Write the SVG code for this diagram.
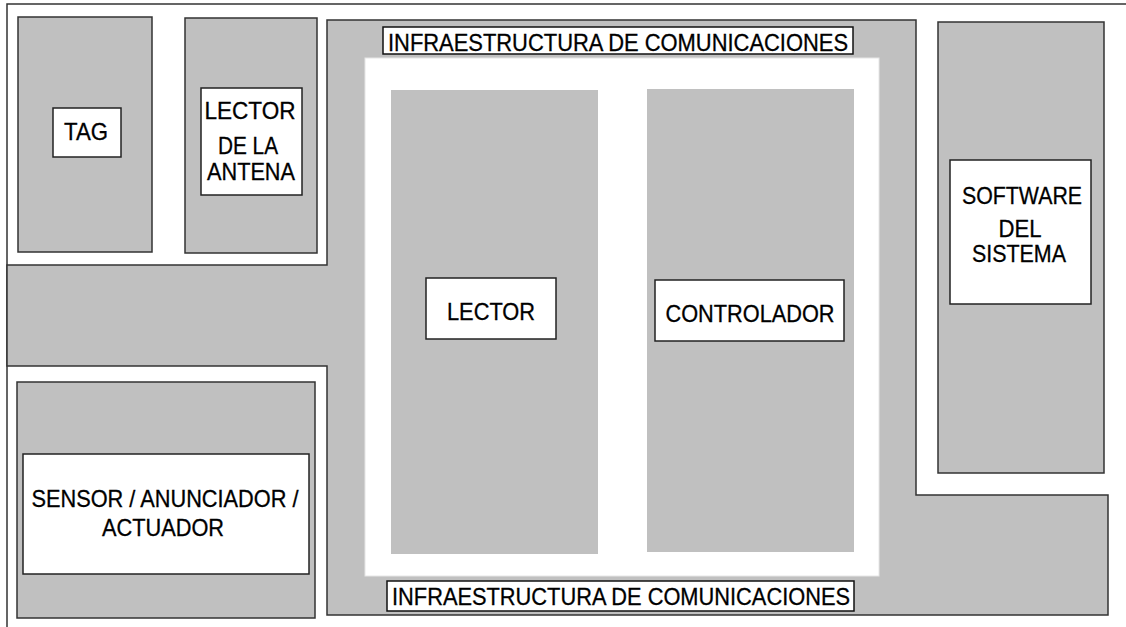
<svg xmlns="http://www.w3.org/2000/svg" width="1126" height="627" viewBox="0 0 1126 627">
  <style>
    .gray { fill: #c0c0c0; stroke: #333; stroke-width: 1.5; }
    .col { fill: #c0c0c0; stroke: none; }
    .box { fill: #ffffff; stroke: #222; stroke-width: 1.5; }
    .lbl { fill: #ffffff; stroke: #111; stroke-width: 1.5; }
    text { font-family: "Liberation Sans", Arial, sans-serif; font-size: 24px; fill: #000; stroke: #000; stroke-width: 0.3; text-anchor: middle; }
  </style>
  <rect width="1126" height="627" fill="#ffffff"/>
  <path d="M7,627 V4 H1126" fill="none" stroke="#333" stroke-width="1.5"/>

  <g id="infraestructura">
    <polygon class="gray" points="327,20 916,20 916,495 1108,495 1108,615 327,615 327,366 7,366 7,265 327,265"/>
    <rect x="365" y="58" width="514" height="518" fill="#ffffff" stroke="#e6e6e6" stroke-width="1"/>
    <rect class="lbl" x="383" y="27" width="470" height="27"/>
    <text x="618" y="51" textLength="460" lengthAdjust="spacingAndGlyphs">INFRAESTRUCTURA DE COMUNICACIONES</text>
    <rect class="lbl" x="387" y="581" width="467" height="30"/>
    <text x="621" y="605" textLength="458" lengthAdjust="spacingAndGlyphs">INFRAESTRUCTURA DE COMUNICACIONES</text>
  </g>

  <g id="tag">
    <rect class="gray" x="18" y="17" width="134" height="235"/>
    <rect class="box" x="53" y="108" width="68" height="49"/>
    <text x="86" y="140" textLength="44" lengthAdjust="spacingAndGlyphs">TAG</text>
  </g>

  <g id="lector-antena">
    <rect class="gray" x="185" y="18" width="132" height="235"/>
    <rect class="box" x="201" y="88" width="101" height="107"/>
    <text x="250" y="119" textLength="91" lengthAdjust="spacingAndGlyphs">LECTOR</text>
    <text x="248" y="154" textLength="60" lengthAdjust="spacingAndGlyphs">DE LA</text>
    <text x="251" y="180" textLength="88" lengthAdjust="spacingAndGlyphs">ANTENA</text>
  </g>

  <g id="software">
    <rect class="gray" x="938" y="22" width="166" height="451"/>
    <rect class="box" x="950" y="160" width="141" height="144"/>
    <text x="1022" y="204" textLength="120" lengthAdjust="spacingAndGlyphs">SOFTWARE</text>
    <text x="1020" y="237" textLength="43" lengthAdjust="spacingAndGlyphs">DEL</text>
    <text x="1019" y="262" textLength="94" lengthAdjust="spacingAndGlyphs">SISTEMA</text>
  </g>

  <g id="sensor">
    <rect class="gray" x="17" y="382" width="298" height="236"/>
    <rect class="box" x="23" y="454" width="286" height="120"/>
    <text x="165" y="507" textLength="267" lengthAdjust="spacingAndGlyphs">SENSOR / ANUNCIADOR /</text>
    <text x="163" y="536" textLength="122" lengthAdjust="spacingAndGlyphs">ACTUADOR</text>
  </g>

  <g id="lector">
    <rect class="col" x="391" y="90" width="207" height="464"/>
    <rect class="box" x="426" y="278" width="130" height="61"/>
    <text x="491" y="320" textLength="88" lengthAdjust="spacingAndGlyphs">LECTOR</text>
  </g>

  <g id="controlador">
    <rect class="col" x="647" y="89" width="207" height="463"/>
    <rect class="box" x="655" y="280" width="189" height="61"/>
    <text x="750" y="322" textLength="169" lengthAdjust="spacingAndGlyphs">CONTROLADOR</text>
  </g>

  <g id="connectors"></g>
</svg>
